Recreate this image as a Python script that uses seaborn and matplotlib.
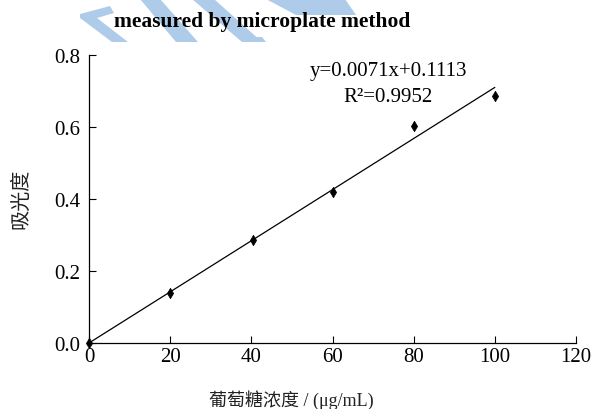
import numpy as np
import pandas as pd
import matplotlib
matplotlib.use("Agg")
import matplotlib.pyplot as plt
from matplotlib.patches import Polygon
import seaborn as sns

# data
conc = [0, 20, 40.5, 60, 80, 100]
absorb = [0.0, 0.139, 0.286, 0.42, 0.603, 0.686]
slope = 0.0071
fit_x = [0, 100]
eq_text = "y=0.0071x+0.1113"
r2_text = "R²=0.9952"
x_ticks = [0, 20, 40, 60, 80, 100, 120]
y_ticks = [0.0, 0.2, 0.4, 0.6, 0.8]

pts = pd.DataFrame({"conc": conc, "abs": absorb})
fit = pd.DataFrame({"conc": fit_x, "abs": [slope * v for v in fit_x]})

sns.set_style("ticks")
plt.rcParams["font.family"] = ["Liberation Serif", "Noto Sans CJK SC"]

fig = plt.figure(figsize=(5.96, 4.10), dpi=100)

# light blue watermark in the top-left corner (pixel coords, y down)
W, H = 596, 410
def fx(p):
    return [(x / W, 1 - y / H) for x, y in p]
wm = "#aecbea"
shapes = [
    [(80, 15), (110, 7), (114, 14), (97, 19), (128, 43), (112, 43), (80, 19)],
    [(140, 0), (160, 0), (198, 43), (176, 43)],
    [(192, 0), (214, 0), (262, 43), (242, 43)],
    [(266, 0), (345, 0), (356, 16), (296, 16)],
    [(252, 38), (262, 38), (266, 43), (256, 43)],
]
for s in shapes:
    fig.add_artist(Polygon(fx(s), closed=True, transform=fig.transFigure,
                           facecolor=wm, edgecolor="none", zorder=0))

ax = fig.add_axes([89 / W, 1 - 344 / H, 487 / W, 288 / H])
ax.patch.set_alpha(0)

sns.lineplot(data=fit, x="conc", y="abs", ax=ax, color="black", linewidth=0.9)
sns.scatterplot(data=pts, x="conc", y="abs", ax=ax, marker="d", color="black",
                s=28, edgecolor="black", linewidth=0.5, zorder=3, clip_on=False)

ax.set_xlim(0, 120)
ax.set_ylim(0, 0.8)
ax.set_xticks(x_ticks)
ax.set_yticks(y_ticks)
ax.set_yticklabels([f"{v:.1f}" for v in y_ticks])
ax.tick_params(direction="in", length=5, width=0.8, labelsize=15,
               color="black", labelcolor="black")
ax.tick_params(axis="y", pad=6)
ax.tick_params(axis="x", pad=3)
sns.despine(ax=ax)
for sp in ["left", "bottom"]:
    ax.spines[sp].set_linewidth(0.9)
    ax.spines[sp].set_color("black")
ax.set_xlabel("")
ax.set_ylabel("")

ax.text(73.7, 0.756, eq_text, ha="center", va="center", fontsize=15, color="black")
ax.text(73.7, 0.686, r2_text, ha="center", va="center", fontsize=15, color="black")

fig.text(262 / W, 1 - 22 / H, "measured by microplate method", ha="center",
         va="center", fontsize=15.5, fontweight="bold", color="black", zorder=5)
fig.text(291 / W, 1 - 400 / H, "葡萄糖浓度 / (μg/mL)", ha="center", va="center",
         fontsize=13, color="#222222")
fig.text(22 / W, 1 - 199 / H, "吸光度", ha="center", va="center", rotation=90,
         fontsize=14.5, color="#222222")

fig.savefig("out.png", dpi=100)
